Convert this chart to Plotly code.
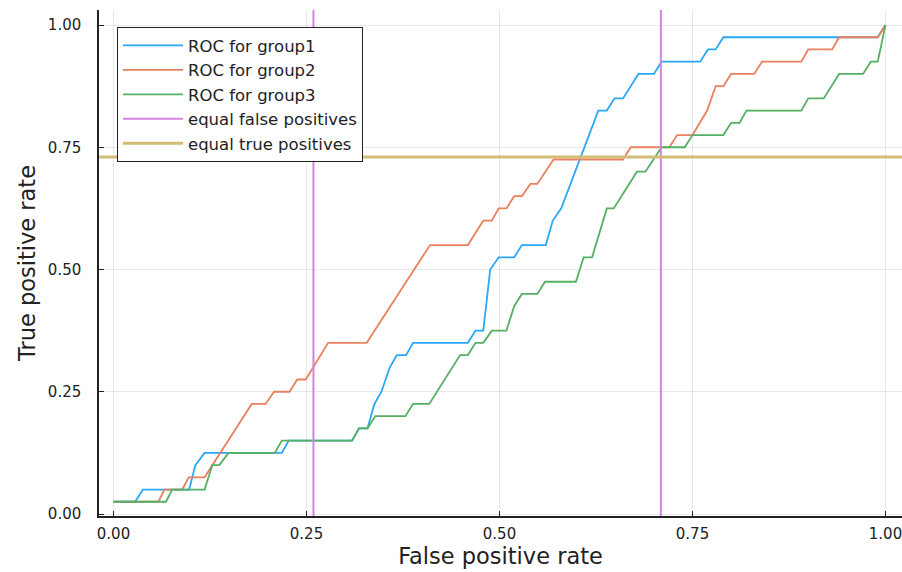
import plotly.graph_objects as go

# ---- data ----
fpr_group1 = [0, 0.028, 0.038, 0.098, 0.106, 0.118, 0.218, 0.227, 0.309, 0.318, 0.329, 0.338, 0.347,
              0.358, 0.367, 0.379, 0.388, 0.459, 0.469, 0.479, 0.488, 0.499, 0.519, 0.529, 0.56, 0.569,
              0.58, 0.628, 0.639, 0.649, 0.66, 0.68, 0.70, 0.71, 0.76, 0.77, 0.78, 0.79, 0.99, 1.0]
tpr_group1 = [0.025, 0.025, 0.05, 0.05, 0.1, 0.125, 0.125, 0.15, 0.15, 0.175, 0.175, 0.225, 0.25,
              0.3, 0.325, 0.325, 0.35, 0.35, 0.375, 0.375, 0.5, 0.525, 0.525, 0.55, 0.55, 0.6,
              0.625, 0.825, 0.825, 0.85, 0.85, 0.9, 0.9, 0.925, 0.925, 0.95, 0.95, 0.975, 0.975, 1.0]

fpr_group2 = [0, 0.058, 0.066, 0.089, 0.0975, 0.118, 0.179, 0.197, 0.208, 0.228, 0.238, 0.249, 0.278,
              0.328, 0.41, 0.459, 0.479, 0.49, 0.499, 0.509, 0.519, 0.529, 0.54, 0.549, 0.57, 0.66,
              0.67, 0.72, 0.73, 0.75, 0.769, 0.78, 0.79, 0.80, 0.83, 0.84, 0.891, 0.90, 0.931, 0.94,
              0.99, 1.0]
tpr_group2 = [0.025, 0.025, 0.05, 0.05, 0.075, 0.075, 0.225, 0.225, 0.25, 0.25, 0.275, 0.275, 0.35,
              0.35, 0.55, 0.55, 0.6, 0.6, 0.625, 0.625, 0.65, 0.65, 0.675, 0.675, 0.725, 0.725,
              0.75, 0.75, 0.775, 0.775, 0.825, 0.875, 0.875, 0.9, 0.9, 0.925, 0.925, 0.95, 0.95, 0.975,
              0.975, 1.0]

fpr_group3 = [0, 0.068, 0.076, 0.118, 0.128, 0.137, 0.149, 0.209, 0.218, 0.309, 0.318, 0.329, 0.339,
              0.378, 0.388, 0.409, 0.449, 0.459, 0.469, 0.479, 0.49, 0.509, 0.519, 0.529, 0.549,
              0.559, 0.599, 0.609, 0.62, 0.639, 0.648, 0.678, 0.689, 0.71, 0.74, 0.75, 0.79, 0.80,
              0.811, 0.82, 0.891, 0.90, 0.92, 0.94, 0.971, 0.981, 0.99, 1.0]
tpr_group3 = [0.025, 0.025, 0.05, 0.05, 0.1, 0.1, 0.125, 0.125, 0.15, 0.15, 0.175, 0.175, 0.2,
              0.2, 0.225, 0.225, 0.325, 0.325, 0.35, 0.35, 0.375, 0.375, 0.425, 0.45, 0.45,
              0.475, 0.475, 0.525, 0.525, 0.625, 0.625, 0.70, 0.70, 0.75, 0.75, 0.775, 0.775, 0.8,
              0.8, 0.825, 0.825, 0.85, 0.85, 0.9, 0.9, 0.925, 0.925, 1.0]

equal_fp_x = [0.259, 0.709]
equal_tp_y = [0.73]

tick_vals = [0, 0.25, 0.5, 0.75, 1.0]
tick_text = ["0.00", "0.25", "0.50", "0.75", "1.00"]

series_names = ["ROC for group1", "ROC for group2", "ROC for group3",
                "equal false positives", "equal true positives"]

# ---- styling ----
colors = ["#2AA7F6", "#E9805E", "#56B063", "#D283E0", "#D2BC76"]
x_range = [-0.0188, 1.0214]
y_range = [-0.0041, 1.0307]
FONT = "DejaVu Sans"

fig = go.Figure()
roc = [(fpr_group1, tpr_group1), (fpr_group2, tpr_group2), (fpr_group3, tpr_group3)]
for i, (fx, ty) in enumerate(roc):
    fig.add_trace(go.Scatter(x=fx, y=ty, mode="lines", name=series_names[i],
                             line=dict(color=colors[i], width=1.8)))

# vertical lines spanning the whole y-axis range
vx, vy = [], []
for v in equal_fp_x:
    vx += [v, v, None]
    vy += [y_range[0], y_range[1], None]
fig.add_trace(go.Scatter(x=vx, y=vy, mode="lines", name=series_names[3],
                         line=dict(color=colors[3], width=2)))

hx, hy = [], []
for h in equal_tp_y:
    hx += [x_range[0], x_range[1], None]
    hy += [h, h, None]
fig.add_trace(go.Scatter(x=hx, y=hy, mode="lines", name=series_names[4],
                         line=dict(color=colors[4], width=3)))

axis_common = dict(
    showgrid=True, gridcolor="rgba(0,0,0,0.09)", gridwidth=1,
    zeroline=False, showline=True, linecolor="#222", linewidth=1.5,
    ticks="inside", ticklen=5, tickcolor="#222", tickwidth=1,
    tickvals=tick_vals, ticktext=tick_text,
    tickfont=dict(family=FONT, size=15, color="#222"),
    mirror=False, automargin=False, ticklabeloverflow="allow",
)

fig.update_layout(
    width=902, height=572,
    margin=dict(l=99, r=0, t=10, b=56),
    paper_bgcolor="white", plot_bgcolor="white",
    font=dict(family=FONT, color="#222"),
    showlegend=True,
    legend=dict(x=0.0224, y=0.966, xanchor="left", yanchor="top",
                bgcolor="white", bordercolor="#222", borderwidth=1,
                font=dict(family=FONT, size=16.5, color="#222"),
                itemwidth=60),
    xaxis=dict(range=x_range, title=dict(text="False positive rate",
                                         font=dict(family=FONT, size=22.5), standoff=5),
               ticklabelstandoff=3, **axis_common),
    yaxis=dict(range=y_range, title=dict(text="True positive rate",
                                         font=dict(family=FONT, size=22.5), standoff=6),
               ticklabelstandoff=13, **axis_common),
)

# remove the default page margin so the 902x572 figure fills the window exactly
fig.write_html("out.html",
               config={"displayModeBar": False},
               post_script="document.body.style.margin='0';document.body.style.overflow='hidden';")
